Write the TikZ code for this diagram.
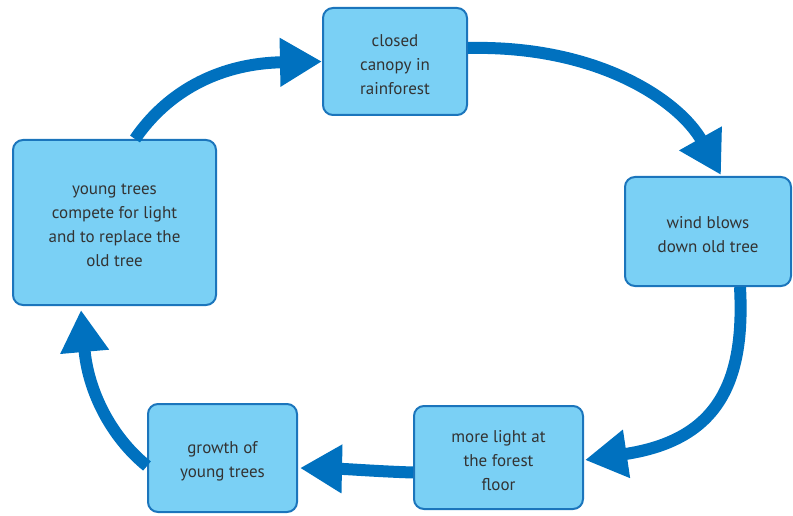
\documentclass[tikz,border=0pt]{standalone}
\usepackage{fontspec}
\setmainfont{PT Sans}
\usetikzlibrary{arrows.meta,calc}
\definecolor{boxfill}{HTML}{7AD0F5}
\definecolor{boxline}{HTML}{1B75BC}
\definecolor{arrowblue}{HTML}{0071BF}
\definecolor{txt}{HTML}{333333}
\begin{document}
\begin{tikzpicture}[x=1pt,y=-1pt,
  stage/.style={draw=boxline, line width=2pt, fill=boxfill, rounded corners=10pt, inner sep=0pt},
  stagetext/.style={align=center, text=txt, font=\fontsize{17}{24}\selectfont, inner sep=0pt, yshift=-3pt},
  cyc/.style={draw=arrowblue, line width=12pt, -{Triangle[length=42pt,width=46pt]}}]
\useasboundingbox (0,0) rectangle (793,516);
\node[stage, minimum width=144pt, minimum height=107pt,
  label={[stagetext]center:{closed\\canopy in\\rainforest}}] (A) at (395,61.5) {};
\node[stage, minimum width=166pt, minimum height=109pt,
  label={[stagetext]center:{wind blows\\down old tree}}] (B) at (708,231.5) {};
\node[stage, minimum width=169pt, minimum height=103pt,
  label={[stagetext]center:{more light at\\the forest\\floor}}] (C) at (498.5,457.5) {};
\node[stage, minimum width=149pt, minimum height=108pt,
  label={[stagetext]center:{growth of\\young trees}}] (D) at (222.5,458) {};
\node[stage, minimum width=203pt, minimum height=165pt,
  label={[stagetext]center:{young trees\\compete for light\\and to replace the\\old tree}}] (E) at (114.5,222.5) {};
\draw[cyc] ($(E.north)+(20.5,0)$) .. controls +(30,-44) and +(-107,2) .. (A.west);
\draw[cyc] ($(A.east)+(0,-13.5)$) .. controls +(132,-3) and +(-41,-73) .. ($(B.north)+(13,-1)$);
\draw[cyc] ($(B.south)+(32,0)$) .. controls +(5,93) and +(135,-20) .. ($(C.east)+(1,2.5)$);
\draw[cyc] ($(C.west)+(0,15)$) .. controls +(-33,-1) and +(48,1) .. ($(D.east)+(2,10)$);
\draw[cyc] ($(D.west)+(0,8)$) .. controls +(-37,-30) and +(7,80) .. ($(E.south)+(-33.5,4)$);
\end{tikzpicture}
\end{document}
